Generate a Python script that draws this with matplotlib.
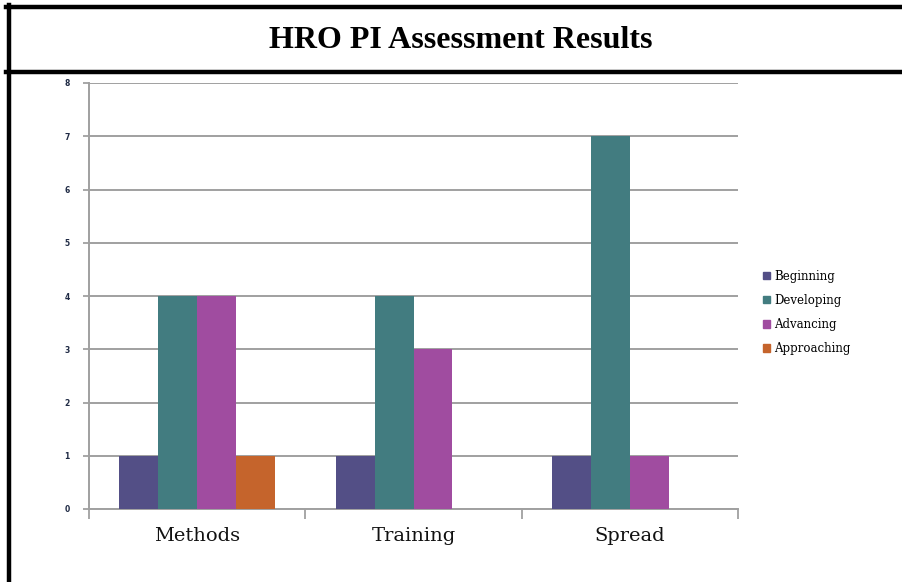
import matplotlib.pyplot as plt
import numpy as np
from matplotlib.lines import Line2D
from matplotlib.patches import Patch

categories = ["Methods", "Training", "Spread"]
series = ["Beginning", "Developing", "Advancing", "Approaching"]
values = {
    "Beginning": [1, 1, 1],
    "Developing": [4, 4, 7],
    "Advancing": [4, 3, 1],
    "Approaching": [1, 0, 0],
}
colors = ["#534F86", "#427C80", "#A04CA0", "#C5642C"]
yticks = [0, 1, 2, 3, 4, 5, 6, 7, 8]

W, H = 902, 582
fig = plt.figure(figsize=(W / 100, H / 100), dpi=100)

# frame lines: top, left, under title
fig.add_artist(Line2D([6 / W, 1], [1 - 7 / H, 1 - 7 / H], color="black", lw=3.2, transform=fig.transFigure))
fig.add_artist(Line2D([8.5 / W, 8.5 / W], [0, 1 - 5 / H], color="black", lw=3.2, transform=fig.transFigure))
fig.add_artist(Line2D([6 / W, 1], [1 - 71.5 / H, 1 - 71.5 / H], color="black", lw=3.2, transform=fig.transFigure))
fig.text(461 / W, 1 - 40 / H, "HRO PI Assessment Results", ha="center", va="center",
         fontsize=23, fontweight="bold", family="Liberation Serif")

ax = fig.add_axes([89 / W, 1 - 509 / H, (738 - 89) / W, (509 - 83) / H])
x = np.arange(len(categories))
width = 0.18
for i, (name, col) in enumerate(zip(series, colors)):
    offs = (i - 1.5) * width
    ax.bar(x + offs, values[name], width, color=col, label=name, zorder=3)

ax.set_xlim(-0.5, 2.5)
ax.set_ylim(0, 8)
ax.set_yticks(yticks)
ax.set_yticklabels([str(v) for v in yticks], fontsize=5.5, fontweight="bold", color="#1F2A44")
ax.yaxis.grid(True, color="#A0A0A0", lw=1.4, zorder=0)
ax.tick_params(axis="y", length=4, width=1.3, color="#A0A0A0", pad=10)

ax.set_xticks([-0.5, 0.5, 1.5, 2.5])
ax.set_xticklabels([])
ax.tick_params(axis="x", which="major", length=7, width=1.3, color="#A0A0A0")
ax.set_xticks(x, minor=True)
ax.set_xticklabels(categories, minor=True, fontsize=14, family="DejaVu Serif", color="#111111")
ax.tick_params(axis="x", which="minor", length=0, pad=13)

for s in ["top", "right"]:
    ax.spines[s].set_visible(False)
for s in ["left", "bottom"]:
    ax.spines[s].set_color("#A0A0A0")
    ax.spines[s].set_linewidth(1.4)

handles = [Patch(color=c, label=n) for n, c in zip(series, colors)]
fig.legend(handles=handles, loc="upper left", bbox_to_anchor=(752 / W, 1 - 259 / H),
           frameon=False, handlelength=0.6, handleheight=0.6, handletextpad=0.4,
           labelspacing=0.95, prop={"family": "DejaVu Serif", "size": 8.5})

fig.savefig("out.png", dpi=100)
